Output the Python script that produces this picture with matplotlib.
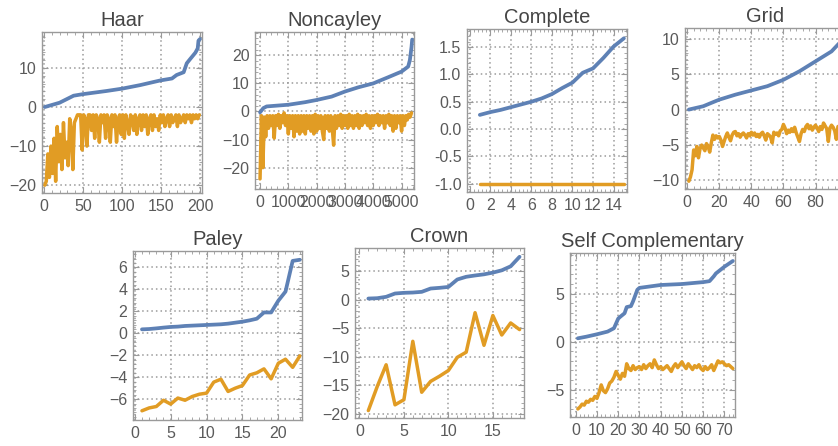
import numpy as np
import matplotlib.pyplot as plt
from matplotlib.ticker import AutoMinorLocator, FormatStrFormatter

plt.rcParams['font.family'] = ['Liberation Sans', 'DejaVu Sans']

BLUE = '#5e81b5'
ORANGE = '#e19c24'
W, H = 838, 446

# --- Haar (blue read at knots, orange every 2nd index) ---
haar_bx = [1, 20, 35, 38, 50, 80, 100, 123, 149, 164, 170, 179, 183, 187, 194, 197, 198, 200]
haar_by = [0.0, 1.1, 2.6, 2.9, 3.3, 4.1, 4.7, 5.6, 6.8, 7.3, 8.2, 8.9, 11.2, 12.2, 13.9, 15.0, 17.0, 17.4]
haar_ox = np.arange(1, 200, 2)
haar_oy = [-20, -19, -12, -18, -10, -17, -8, -19, -5, -14,
           -7, -16, -4, -13, -9, -15, -3, -6, -16, -4,
           -3, -2, -2, -2, -11, -2, -3, -10, -2, -2,
           -6, -2, -8, -2, -3, -9, -2, -4, -2, -8,
           -2, -3, -9, -2, -5, -2, -9, -3, -2, -7,
           -2, -8, -2, -4, -7, -2, -3, -6, -2, -7,
           -3, -2, -6, -2, -5, -2, -7, -3, -2, -6,
           -2, -5, -3, -6, -2, -4, -2, -5, -3, -2,
           -5, -2, -4, -3, -2, -5, -2, -4, -3, -2,
           -4, -2, -3, -2, -4, -2, -3, -2, -3, -2]

# --- Noncayley ---
nonc_bx = [1, 118, 235, 1000, 1588, 2000, 2529, 3000, 3470, 4000, 4529, 5000, 5235, 5294, 5353, 5376]
nonc_by = [-0.3, 1.2, 1.8, 2.4, 3.3, 4.1, 5.3, 7.1, 8.6, 10.0, 12.2, 14.2, 16.0, 18.3, 23.0, 25.6]
nonc_ox = np.arange(1, 5400, 50)
nonc_oy = [-24, -1.5, -20, -2, -9, -1.5, -6, -1.5, -5, -1.5,
           -9.5, -1.5, -5, -1, -6, -1.5, -4, -0.5, -5, -1.5,
           -8, -1.5, -6, -1.5, -9, -1.5, -7, -1.5, -8, -1.5,
           -7, -1.5, -8, -1.5, -6, -1.5, -7, -1.5, -8, -1,
           -7, -1.5, -6, -1.5, -7, -10, -1.5, -6, -1.5, -7,
           -1.5, -6, -12, -1.5, -6, -1.5, -5, -1, -6, -1.5,
           -5, -1.5, -6, -1, -5, -1.5, -6, -1.5, -5, -1,
           -6, -1.5, -5, -1.5, -4, -1, -5, -1.5, -6, -1.5,
           -5, -1.5, -4, -1, -5, -1.5, -4, -1.5, -6, -1.5,
           -4, -1, -5, -1.5, -7, -1.5, -6, -1.5, -4, -1.5,
           -7, -1.5, -5, -1.5, -3, -1, -2, -0.5]

# --- Complete ---
comp_x = np.arange(1, 16)
comp_by = [0.26, 0.31, 0.35, 0.40, 0.45, 0.50, 0.56, 0.64, 0.75, 0.85, 1.03, 1.11, 1.30, 1.51, 1.66]
comp_oy = [-1.0] * 15

# --- Grid ---
grid_bx = [1, 10, 15, 20, 30, 40, 50, 60, 70, 80, 85, 90, 95, 98]
grid_by = [0.0, 0.47, 0.94, 1.4, 2.1, 2.7, 3.3, 4.2, 5.4, 6.8, 7.5, 8.2, 9.4, 9.9]
grid_ox = np.arange(1, 99)
grid_oy = [-10.1, -9.5, -8.5, -5.7, -6.5, -5.2, -6.8, -5.5, -5.0, -5.4,
           -5.8, -4.8, -5.2, -6.0, -4.7, -3.6, -4.2, -3.7, -4.0, -3.8,
           -4.3, -5.2, -4.5, -3.8, -3.3, -3.9, -4.4, -3.6, -3.2, -3.1,
           -3.7, -3.4, -3.9, -3.5, -3.3, -3.6, -4.0, -3.4, -3.7, -3.2,
           -3.6, -3.3, -3.8, -3.5, -3.9, -3.4, -3.2, -3.7, -4.3, -3.4,
           -3.6, -3.9, -4.7, -3.2, -3.5, -3.3, -3.7, -3.0, -2.8, -2.1,
           -2.6, -3.4, -2.9, -3.2, -2.7, -3.1, -2.5, -3.3, -3.9, -4.5,
           -3.4, -2.8, -3.1, -2.4, -2.1, -2.7, -2.3, -2.9, -2.5, -2.2,
           -2.6, -3.1, -2.4, -2.8, -1.9, -2.3, -2.7, -4.5, -2.6, -2.2,
           -2.5, -3.0, -4.2, -2.4, -2.3, -2.7, -3.6, -4.3]

# --- Paley ---
paley_x = np.arange(1, 24)
paley_by = [0.36, 0.39, 0.45, 0.52, 0.58, 0.61, 0.67, 0.70, 0.73, 0.76, 0.79, 0.82,
            0.88, 0.97, 1.06, 1.18, 1.33, 1.9, 1.9, 2.97, 3.8, 6.6, 6.7]
paley_oy = [-7.06, -6.8, -6.67, -6.1, -6.45, -5.9, -6.1, -5.76, -5.55, -5.45, -4.45, -4.18,
            -5.3, -5.0, -4.76, -3.8, -3.6, -3.24, -4.15, -2.73, -2.36, -3.1, -2.06]

# --- Crown ---
crown_x = np.arange(1, 19)
crown_by = [0.17, 0.23, 0.47, 1.05, 1.17, 1.22, 1.34, 1.92, 2.04, 2.2, 3.5, 3.97,
            4.2, 4.4, 4.7, 5.1, 5.8, 7.46]
crown_oy = [-19.4, -15.2, -11.4, -18.4, -17.5, -7.3, -16.2, -14.3, -13.4, -12.4, -10.1, -9.2,
            -2.3, -8.0, -2.8, -6.2, -4.1, -5.25]

# --- Self Complementary ---
sc_bx = [1, 5, 10, 15, 18, 20, 21, 23, 24, 26, 27, 29, 30, 35, 40, 50, 60, 63, 65, 66, 70, 74]
sc_by = [0.35, 0.52, 0.77, 1.05, 1.4, 2.4, 2.6, 2.96, 3.6, 3.7, 4.2, 5.4, 5.6, 5.75, 5.9,
         6.0, 6.2, 6.3, 6.8, 7.1, 7.8, 8.4]
sc_ox = np.arange(1, 75)
sc_oy = [-7.0, -6.8, -6.5, -6.6, -6.2, -6.3, -6.0, -6.1, -5.7, -5.9,
         -5.3, -4.5, -5.1, -5.3, -4.9, -4.3, -4.1, -3.7, -3.1, -3.5,
         -3.9, -3.3, -3.6, -2.3, -2.8, -3.0, -2.5, -2.9, -2.7, -2.6,
         -2.9, -2.4, -2.8, -2.5, -2.3, -2.7, -1.9, -2.4, -2.8, -2.6,
         -2.9, -2.7, -2.5, -2.8, -3.1, -2.6, -2.3, -2.7, -2.4, -2.1,
         -2.5, -2.8, -2.3, -2.6, -2.9, -2.5, -2.7, -2.4, -2.8, -3.0,
         -2.6, -2.9, -2.7, -2.4, -3.0, -2.5, -2.0, -2.2, -2.1, -2.3,
         -2.5, -2.4, -2.6, -2.8]


def place(l, r, t, b):
    return [l / W, 1 - b / H, (r - l) / W, (b - t) / H]


def setup_axes(ax, title, xlim, ylim, xticks, yticks, yfmt=None):
    ax.set_xlim(xlim)
    ax.set_ylim(ylim)
    ax.set_xticks(xticks)
    ax.set_yticks(yticks)
    if yfmt:
        ax.yaxis.set_major_formatter(FormatStrFormatter(yfmt))
    ax.xaxis.set_minor_locator(AutoMinorLocator(5))
    ax.yaxis.set_minor_locator(AutoMinorLocator(5))
    ax.grid(True, which='major', ls=(0, (1, 2)), color='#9a9a9a', lw=1.1)
    ax.set_axisbelow(True)
    for s in ax.spines.values():
        s.set_color('#9a9a9a')
        s.set_linewidth(1.0)
    ax.tick_params(which='both', direction='in', top=True, right=True,
                   color='#9a9a9a', labelsize=11.5, labelcolor='#5a5a5a', pad=4)
    ax.tick_params(which='major', length=4, width=0.8)
    ax.tick_params(which='minor', length=2, width=0.6)
    ax.set_title(title, fontsize=14.5, color='#454545', pad=4)


def draw(ax, bx, by, ox, oy):
    ax.plot(bx, by, color=BLUE, lw=2.7, solid_joinstyle='round', solid_capstyle='round')
    ax.plot(ox, oy, color=ORANGE, lw=2.5, solid_joinstyle='round', solid_capstyle='round')


fig = plt.figure(figsize=(W / 100, H / 100), dpi=100)

ax = fig.add_axes(place(42, 202, 32, 193))
draw(ax, haar_bx, haar_by, haar_ox, haar_oy)
setup_axes(ax, 'Haar', (-2.5, 202.5), (-22, 19.2), [0, 50, 100, 150, 200], [-20, -10, 0, 10])

ax = fig.add_axes(place(255, 414, 32, 189))
draw(ax, nonc_bx, nonc_by, nonc_ox, nonc_oy)
setup_axes(ax, 'Noncayley', (-177, 5440), (-27.6, 28.3),
           [0, 1000, 2000, 3000, 4000, 5000], [-20, -10, 0, 10, 20])

ax = fig.add_axes(place(467, 627, 29, 192))
draw(ax, comp_x, comp_by, comp_x, comp_oy)
setup_axes(ax, 'Complete', (-0.25, 15.3), (-1.15, 1.83),
           [0, 2, 4, 6, 8, 10, 12, 14], [-1.0, -0.5, 0.0, 0.5, 1.0, 1.5], yfmt='%.1f')

ax = fig.add_axes(place(685, 845, 28, 189))
draw(ax, grid_bx, grid_by, grid_ox, grid_oy)
setup_axes(ax, 'Grid', (-1.4, 98.4), (-11.2, 11.5), [0, 20, 40, 60, 80], [-10, -5, 0, 5, 10])

ax = fig.add_axes(place(133, 302, 251, 420))
draw(ax, paley_x, paley_by, paley_x, paley_oy)
setup_axes(ax, 'Paley', (-0.25, 23.3), (-7.9, 7.5), [0, 5, 10, 15, 20], [-6, -4, -2, 0, 2, 4, 6])

ax = fig.add_axes(place(355, 524, 248, 418))
draw(ax, crown_x, crown_by, crown_x, crown_oy)
setup_axes(ax, 'Crown', (-0.5, 18.5), (-20.7, 9.0), [0, 5, 10, 15], [-20, -15, -10, -5, 0, 5])

ax = fig.add_axes(place(570, 735, 253, 417))
draw(ax, sc_bx, sc_by, sc_ox, sc_oy)
setup_axes(ax, 'Self Complementary', (-2.7, 75), (-7.84, 9.23),
           [0, 10, 20, 30, 40, 50, 60, 70], [-5, 0, 5])

fig.savefig('out.png', dpi=100)
